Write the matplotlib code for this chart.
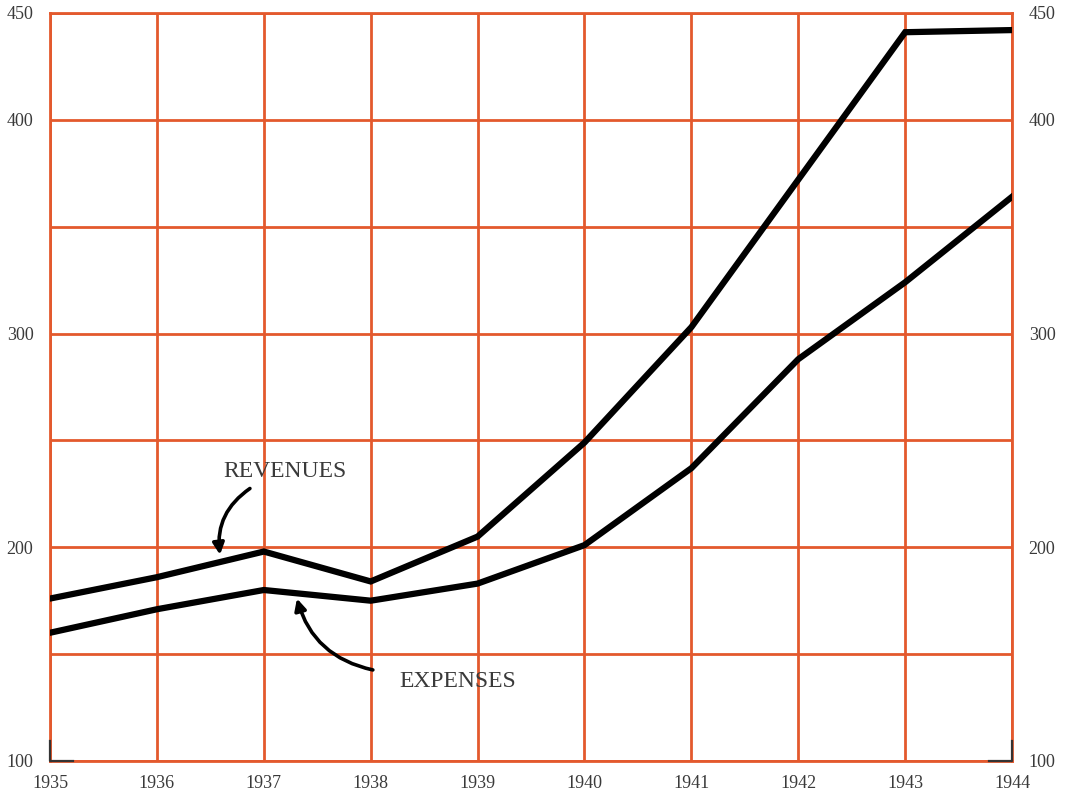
import matplotlib
matplotlib.use("Agg")
import matplotlib.pyplot as plt

# datos
anios = [1935, 1936, 1937, 1938, 1939, 1940, 1941, 1942, 1943, 1944]
ingresos = [176, 186, 198, 184, 205, 249, 303, 372, 441, 442]
gastos = [160, 171, 180, 175, 183, 201, 237, 288, 324, 364]
ticks_y = [100, 150, 200, 250, 300, 350, 400, 450]
etiquetas_y = ["100", "", "200", "", "300", "", "400", "450"]

naranja = "#e3592d"
gris = "#3a3a3a"
plt.rcParams["font.family"] = ["Liberation Serif", "DejaVu Serif"]

fig = plt.figure(figsize=(10.67, 7.96), dpi=100)
ax = fig.add_axes([0.0469, 0.044, 0.9016, 0.9397])

ax.set_xlim(anios[0], anios[-1])
ax.set_ylim(100, 450)
ax.set_xticks(anios)
ax.set_xticklabels([str(a) for a in anios])
ax.set_yticks(ticks_y)
ax.set_yticklabels(etiquetas_y)
ax.grid(True, color=naranja, linewidth=2.0)
ax.set_axisbelow(True)
for s in ax.spines.values():
    s.set_color(naranja)
    s.set_linewidth(2.0)
ax.tick_params(length=0, labelsize=13, colors=gris, pad=10,
               labelright=True, right=True)
ax.tick_params(axis="y", pad=12)

ax.plot(anios, ingresos, color="black", linewidth=4.5, solid_joinstyle="miter", zorder=3)
ax.plot(anios, gastos, color="black", linewidth=4.5, solid_joinstyle="miter", zorder=3)

# etiquetas con flechas curvas
ax.text(1937.20, 235.5, "REVENUES", fontsize=17, color=gris, ha="center", va="center")
ax.annotate("", xy=(1936.59, 196.5), xytext=(1936.87, 227.5),
            arrowprops=dict(arrowstyle="-|>", color="black", lw=2.6,
                            mutation_scale=17, shrinkA=0, shrinkB=0,
                            connectionstyle="arc3,rad=0.3"))
ax.text(1938.81, 137.0, "EXPENSES", fontsize=17, color=gris, ha="center", va="center")
ax.annotate("", xy=(1937.31, 176.0), xytext=(1938.02, 142.6),
            arrowprops=dict(arrowstyle="-|>", color="black", lw=2.6,
                            mutation_scale=17, shrinkA=0, shrinkB=0,
                            connectionstyle="arc3,rad=-0.3"))

# marcas de esquina
ax.plot([0.0, 0.0, 0.024], [0.027, 0.0, 0.0], transform=ax.transAxes,
        color="#333333", linewidth=1.6, clip_on=False, zorder=4)
ax.plot([0.976, 1.0, 1.0], [0.0, 0.0, 0.027], transform=ax.transAxes,
        color="#333333", linewidth=1.6, clip_on=False, zorder=4)

fig.savefig("out.png", dpi=100, facecolor="white")
